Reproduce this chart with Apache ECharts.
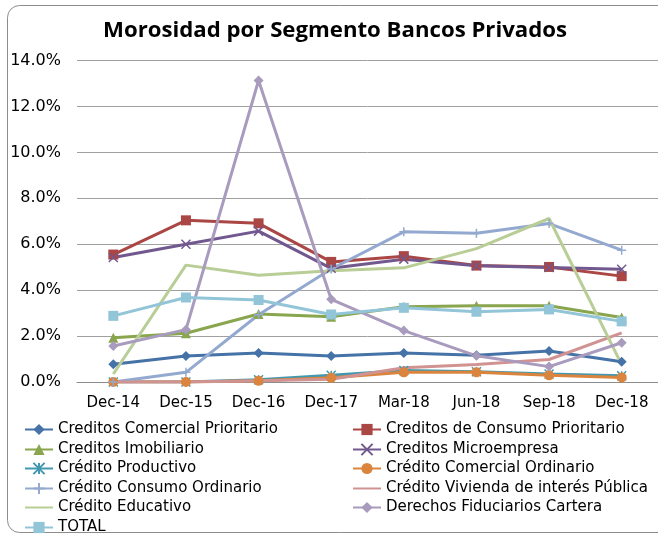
<!DOCTYPE html>
<html>
<head>
<meta charset="utf-8">
<script src="https://cdn.jsdelivr.net/npm/echarts@6/dist/echarts.min.js"></script>
<style>
  html, body { margin: 0; padding: 0; background: #fff; }
  #chart { width: 658px; height: 534px; }
</style>
</head>
<body>
<div id="chart"></div>
<script>
// morosidad (%) por segmento, bancos privados
const categories = ['Dec-14', 'Dec-15', 'Dec-16', 'Dec-17', 'Mar-18', 'Jun-18', 'Sep-18', 'Dec-18']
const yTicks = [0, 2, 4, 6, 8, 10, 12, 14]

const comercialPrioritario = [0.77, 1.13, 1.26, 1.13, 1.26, 1.16, 1.35, 0.88]
const consumoPrioritario = [5.55, 7.04, 6.91, 5.23, 5.48, 5.07, 5.01, 4.61]
const imobiliario = [1.93, 2.12, 2.96, 2.84, 3.28, 3.32, 3.32, 2.81]
const microempresa = [5.42, 6.0, 6.57, 4.95, 5.35, 5.06, 4.99, 4.91]
const productivo = [0, 0, 0.1, 0.29, 0.5, 0.45, 0.35, 0.27]
const comercialOrdinario = [0, 0, 0.05, 0.18, 0.42, 0.42, 0.29, 0.2]
const consumoOrdinario = [0, 0.42, 2.93, 4.92, 6.54, 6.48, 6.9, 5.74]
const viviendaPublica = [0, 0, 0.05, 0.12, 0.62, 0.76, 0.98, 2.14]
const educativo = [0.35, 5.09, 4.65, 4.84, 4.97, 5.81, 7.12, 0.76]
const fiduciarios = [1.57, 2.28, 13.13, 3.6, 2.24, 1.14, 0.67, 1.71]
const total = [2.88, 3.68, 3.57, 2.94, 3.23, 3.06, 3.16, 2.64]

const xSymbol = 'path://M0,0L10,10M10,0L0,10'
const starSymbol = 'path://M0,0L10,10M10,0L0,10M5,0L5,10'
const plusSymbol = 'path://M0,5L10,5M5,0L5,10' // needs real width or legend layout breaks

const FONT = 'DejaVu Sans'

function line(name, data, color, symbol, size, stroked) {
  return {
    name,
    type: 'line',
    data,
    symbol: symbol || 'none',
    symbolSize: size || 8,
    showSymbol: !!symbol,
    lineStyle: { color, width: 3 },
    itemStyle: stroked
      ? { color, borderColor: color, borderWidth: 1.5 }
      : { color, borderWidth: 0 },
    emphasis: { disabled: true },
  }
}

// order alternates left / right legend column, like the original
const series = [
  line('Creditos Comercial Prioritario', comercialPrioritario, '#4572A7', 'diamond', 10),
  line('Creditos de Consumo Prioritario', consumoPrioritario, '#AA4643', 'rect', 10),
  line('Creditos Imobiliario', imobiliario, '#89A54E', 'triangle', 10),
  line('Creditos Microempresa', microempresa, '#71588F', xSymbol, 9, true),
  line('Crédito Productivo', productivo, '#4198AF', starSymbol, 9, true),
  line('Crédito Comercial Ordinario', comercialOrdinario, '#DB843D', 'circle', 10),
  line('Crédito Consumo Ordinario', consumoOrdinario, '#93A9CF', plusSymbol, 9, true),
  line('Crédito Vivienda de interés Pública', viviendaPublica, '#D19392'),
  line('Crédito Educativo', educativo, '#B9CD96'),
  line('Derechos Fiduciarios Cartera', fiduciarios, '#A99BBD', 'diamond', 10),
  line('TOTAL', total, '#92C5D8', 'rect', 10),
]

// one small legend per entry, two columns
const legends = series.map((s, i) => ({
  id: 'leg' + i,
  orient: 'horizontal',
  left: i % 2 === 0 ? 24 : 352,
  top: Math.round(422 + Math.floor(i / 2) * 19.5),
  width: 300,
  height: 14,
  padding: 0,
  itemWidth: 28,
  itemHeight: 14,
  textStyle: { fontFamily: FONT, fontSize: 15, color: '#000', lineHeight: 14 },
  itemStyle: s.showSymbol ? {} : { opacity: 0 },
  selectedMode: false,
  data: [s.name],
}))

const chart = echarts.init(document.getElementById('chart'), null, { renderer: 'canvas' })
chart.setOption({
  animation: false,
  title: {
    text: 'Morosidad por Segmento Bancos Privados',
    left: 98,
    top: 15,
    textStyle: { fontFamily: 'Open Sans', fontWeight: 'bold', fontSize: 22.2, color: '#000' },
  },
  graphic: [{
    type: 'rect',
    shape: { x: 7.5, y: 5.5, width: 700, height: 527, r: 12 },
    style: { fill: 'none', stroke: '#8c8c8c', lineWidth: 1 },
    silent: true,
  }],
  grid: { left: 77, right: 0, top: 60.5, bottom: 152 },
  legend: legends,
  xAxis: {
    type: 'category',
    data: categories,
    boundaryGap: true,
    axisLine: { lineStyle: { color: '#8c8c8c', width: 1 } },
    axisTick: { show: false },
    axisLabel: { fontFamily: FONT, fontSize: 15, color: '#000', margin: 14 },
  },
  yAxis: {
    type: 'value',
    min: yTicks[0],
    max: yTicks[yTicks.length - 1],
    interval: yTicks[1] - yTicks[0],
    axisLine: { show: false },
    axisTick: { show: false },
    axisLabel: { fontFamily: FONT, fontSize: 16, color: '#000', margin: 16, formatter: v => v.toFixed(1) + '%' },
    splitLine: { lineStyle: { color: '#a0a0a0', width: 1 } },
  },
  series,
})
</script>
</body>
</html>
